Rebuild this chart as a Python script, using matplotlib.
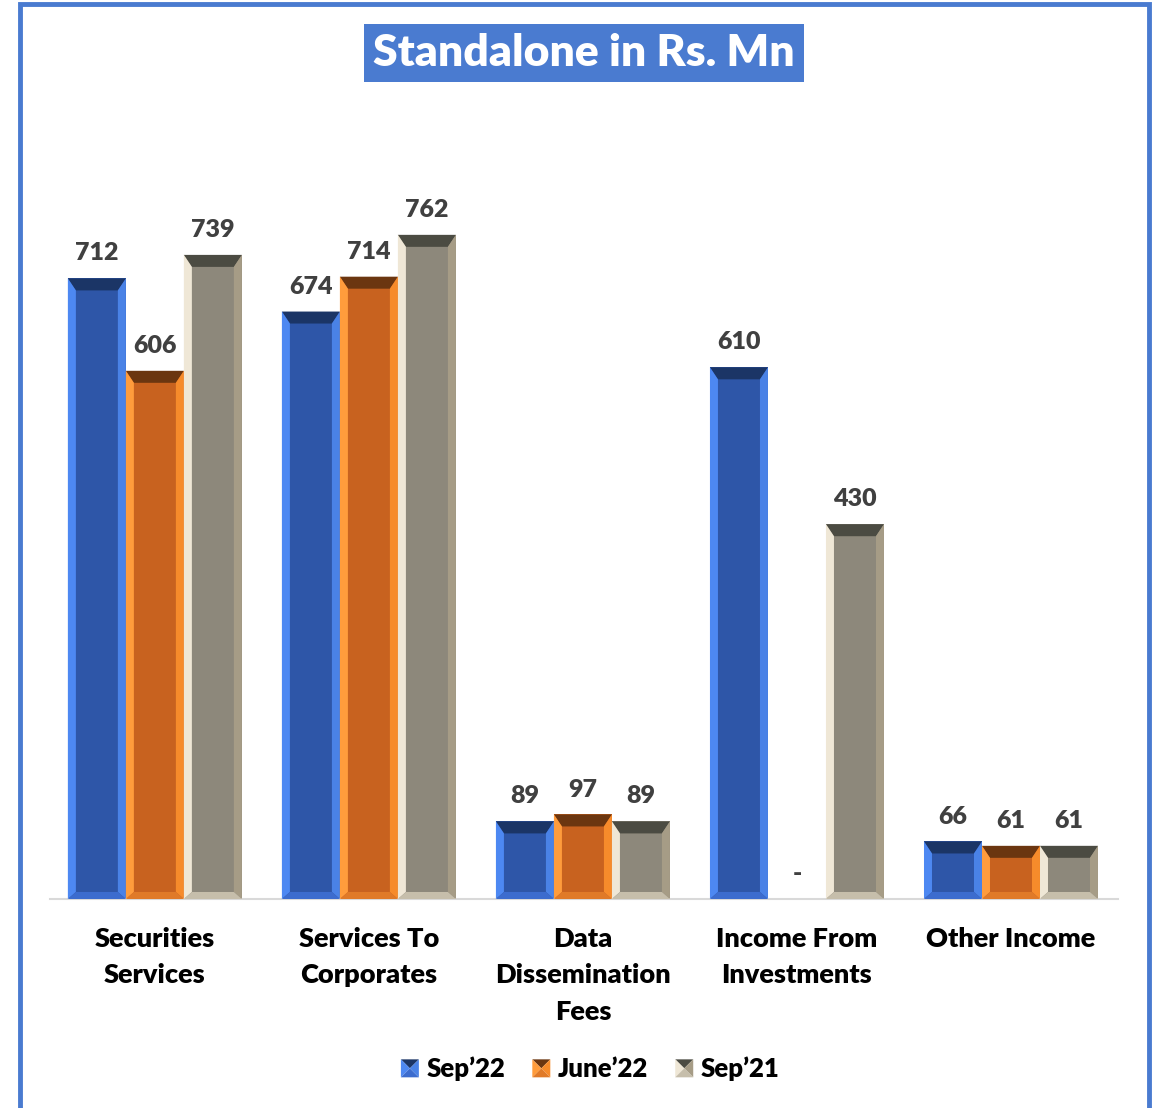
import numpy as np
import matplotlib.pyplot as plt
from matplotlib.patches import Polygon, Rectangle
from matplotlib.legend_handler import HandlerBase

plt.rcParams['font.family'] = ['Lato', 'DejaVu Sans']

categories = ["Securities\nServices", "Services To\nCorporates", "Data\nDissemination\nFees",
              "Income From\nInvestments", "Other Income"]
series = ["Sep\u201922", "June\u201922", "Sep\u201921"]
sep22 = [712, 674, 89, 610, 66]
jun22 = [606, 714, 97, 0, 61]
sep21 = [739, 762, 89, 430, 61]

# face, top, left, right, bottom shades for each series
shades = [
    ["#2e56a8", "#1b3566", "#4d88f2", "#4a82e6", "#3c6cce"],
    ["#c8621f", "#6b3610", "#ff9c3c", "#f68b2b", "#e07a28"],
    ["#8d887b", "#4b4b42", "#efe7d6", "#a69c86", "#c6beab"],
]

fig = plt.figure(figsize=(11.62, 11.08), dpi=100)
W, H = 1162, 1108
ax = fig.add_axes([50 / W, 209 / H, 1068 / W, 767 / H])
ax.set_xlim(-0.49, 4.5)
ax.set_ylim(0, 880)

x = np.arange(len(categories))
bw = 0.271
# bevel size converted from pixels into data units
bx = 8 / 214
by_top = 12 / 0.872
by_bot = 7 / 0.872


def bevel(x0, w, h, c):
    face, top, left, right, bottom = c
    if h <= 0:
        return
    ax.add_patch(Rectangle((x0, 0), w, h, facecolor=face, edgecolor='none', zorder=2))
    pts = {
        top: [(x0, h), (x0 + w, h), (x0 + w - bx, h - by_top), (x0 + bx, h - by_top)],
        left: [(x0, 0), (x0, h), (x0 + bx, h - by_top), (x0 + bx, by_bot)],
        right: [(x0 + w, 0), (x0 + w, h), (x0 + w - bx, h - by_top), (x0 + w - bx, by_bot)],
        bottom: [(x0, 0), (x0 + w, 0), (x0 + w - bx, by_bot), (x0 + bx, by_bot)],
    }
    for col, p in pts.items():
        ax.add_patch(Polygon(p, closed=True, facecolor=col, edgecolor='none', zorder=3))


for i, vals in enumerate([sep22, jun22, sep21]):
    xs = x + (i - 1) * bw
    bars = ax.bar(xs, vals, bw, color='none', zorder=1)
    for b, v in zip(bars, vals):
        bevel(b.get_x(), b.get_width(), b.get_height(), shades[i])
        lbl = str(v) if v else "-"
        ax.text(b.get_x() + b.get_width() / 2, v + 16 if v else 16, lbl,
                ha='center', va='bottom', fontsize=18, fontweight='heavy', color='#404040')

for s in ['top', 'left', 'right']:
    ax.spines[s].set_visible(False)
ax.spines['bottom'].set_color('#d9d9d9')
ax.spines['bottom'].set_linewidth(1.5)
ax.set_yticks([])
ax.set_xticks(x)
ax.set_xticklabels(categories, fontsize=19.5, fontweight='heavy', linespacing=1.62)
ax.tick_params(axis='x', length=0, pad=20)


class PyramidHandler(HandlerBase):
    def __init__(self, c):
        super().__init__()
        self.c = c

    def create_artists(self, legend, orig_handle, xd, yd, width, height, fontsize, trans):
        face, top, left, right, bottom = self.c
        s = height * 1.0
        x0 = xd + width - s
        y0 = yd - (s - height) / 2
        cx, cy = x0 + s / 2, y0 + s / 2
        arts = []
        for col, p in [(top, [(x0, y0 + s), (x0 + s, y0 + s), (cx, cy)]),
                       (left, [(x0, y0), (x0, y0 + s), (cx, cy)]),
                       (right, [(x0 + s, y0), (x0 + s, y0 + s), (cx, cy)]),
                       (bottom, [(x0, y0), (x0 + s, y0), (cx, cy)])]:
            arts.append(Polygon(p, closed=True, facecolor=col, edgecolor='none', transform=trans))
        return arts


handles = [Rectangle((0, 0), 1, 1) for _ in series]
fig.legend(handles, series, loc='center', bbox_to_anchor=(589 / W, 1 - 1069 / H),
           ncol=3, frameon=False, prop={'size': 18.5, 'weight': 'heavy'},
           handler_map={h: PyramidHandler(c) for h, c in zip(handles, shades)},
           handlelength=0.8, handletextpad=0.3, columnspacing=0.95)

# title box and outer frame
fig.text(584 / W, 1 - 53 / H, "Standalone in Rs. Mn", ha='center', va='center',
         fontsize=32, fontweight='heavy', color='white',
         bbox=dict(boxstyle='square,pad=0.2', facecolor='#4a7bd0', edgecolor='none'))
fig.patches.append(Rectangle((20 / W, -0.05), 1129 / W, 1.05 - 4 / H, transform=fig.transFigure,
                             fill=False, edgecolor='#4a7bd0', linewidth=3.5))

fig.savefig('out.png', dpi=100)
